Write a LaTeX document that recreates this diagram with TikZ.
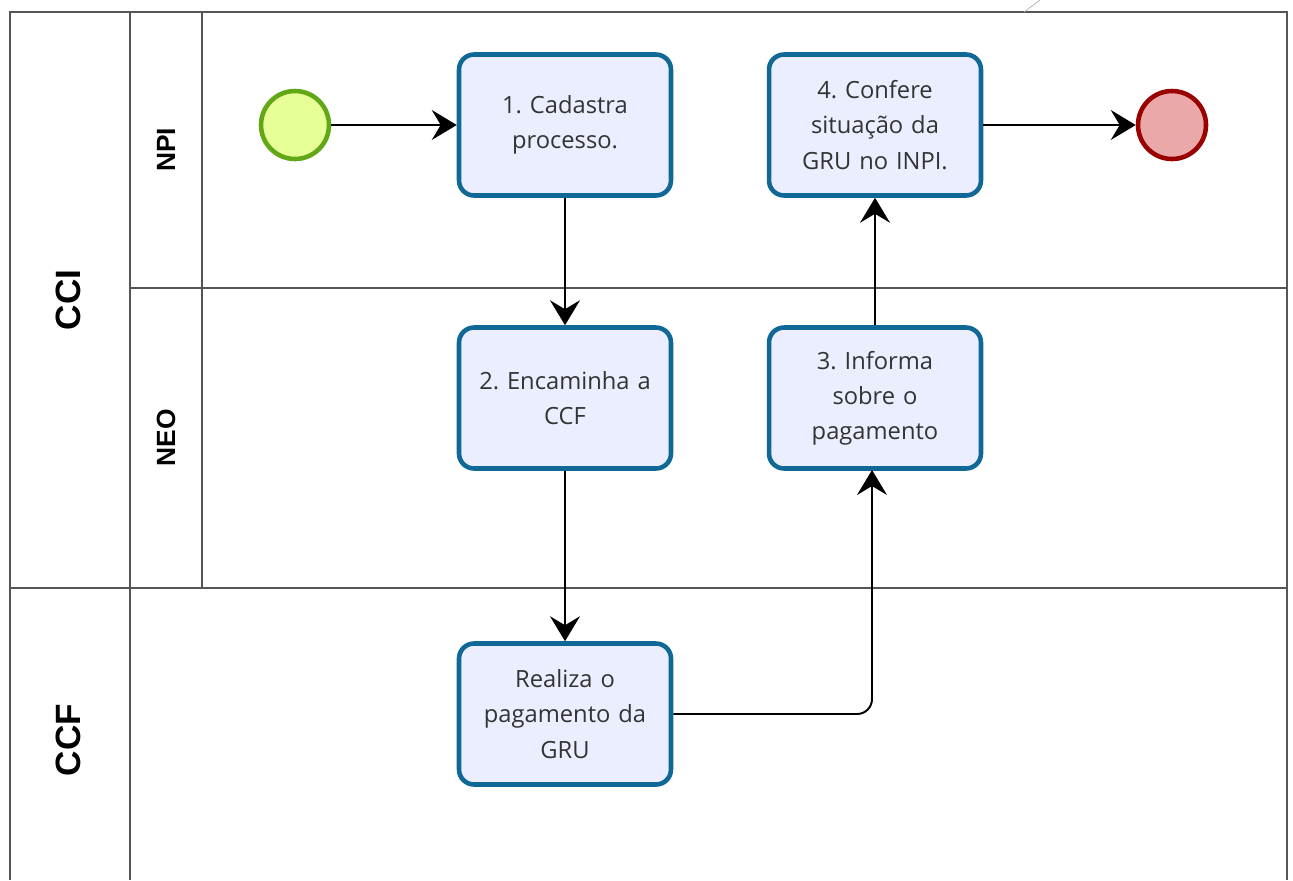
\documentclass[tikz,border=0pt]{standalone}
\usepackage{fontspec}
\setmainfont{Open Sans}
\newfontfamily\lanefont{Liberation Sans}
\usepackage{tikz}
\usetikzlibrary{positioning,arrows.meta,calc}
\definecolor{pool}    {RGB}{ 85, 85, 85}
\definecolor{taskline}{RGB}{ 16,104,150}
\definecolor{taskfill}{RGB}{234,238,255}
\definecolor{startline}{RGB}{ 98,167, 22}
\definecolor{startfill}{RGB}{230,255,151}
\definecolor{endline} {RGB}{153,  0,  0}
\definecolor{endfill} {RGB}{235,168,168}
\frenchspacing

\begin{document}
\begin{tikzpicture}[x=0.02cm,y=-0.02cm,
    task/.style={draw=taskline,fill=taskfill,line width=2.6pt,rounded corners=0.3cm,
                 minimum width=4.24cm,minimum height=2.82cm,align=center,
                 text width=3.8cm,font=\fontsize{13.5}{20}\selectfont,text=black!80},
    event/.style={draw,shape=circle,line width=2.6pt,minimum size=1.36cm,inner sep=0pt},
    lane/.style={font=\lanefont\bfseries\fontsize{15}{17}\selectfont,rotate=90},
    pooltitle/.style={font=\lanefont\bfseries\fontsize{20}{22}\selectfont,rotate=90},
    flow/.style={line width=1.1pt,-{Stealth[length=0.5cm,width=0.6cm,inset=0.18cm]}}]

    \useasboundingbox (0,0) rectangle (1293,880);

    % pools and lanes
    \draw[pool,line width=1.1pt] (10,12) rectangle (1287,588);
    \draw[pool,line width=1.1pt] (130,12) -- (130,880);
    \draw[pool,line width=1.1pt] (10,588) -- (10,880);
    \draw[pool,line width=1.1pt] (1287,588) -- (1287,880);
    \draw[pool,line width=1.1pt] (202,12) -- (202,588);
    \draw[pool,line width=1.1pt] (130,288) -- (1287,288);
    \draw[black!30,line width=0.4pt] (1024,12) -- (1040,0);

    \node[pooltitle] (cci) at (68,300) {CCI};
    \node[pooltitle] (ccf) at (68,740) {CCF};
    \node[lane] (npi) at (166,150) {NPI};
    \node[lane] (neo) at (166,438) {NEO};

    % events and tasks
    \node[event,draw=startline,fill=startfill] (start) at (295,125) {};
    \node[task] (cadastra) at (565,125) {1. Cadastra\\processo.};
    \node[task] (encaminha) at (565,398) {2. Encaminha a\\CCF};
    \node[task] (realiza) at (565,714) {Realiza o\\pagamento da\\GRU};
    \node[task] (informa) at (875,398) {3. Informa\\sobre o\\pagamento};
    \node[task] (confere) at (875,125) {4. Confere\\situação da\\GRU no INPI.};
    \node[event,draw=endline,fill=endfill] (end) at (1172,125) {};

    % flows
    \draw[flow] (start) -- (cadastra);
    \draw[flow] (cadastra) -- (encaminha);
    \draw[flow] (encaminha) -- (realiza);
    \draw[flow,rounded corners=0.3cm] (realiza.east) -- (872,714) -- (872,470);
    \draw[flow] (informa) -- (confere);
    \draw[flow] (confere) -- (end);

\end{tikzpicture}
\end{document}
